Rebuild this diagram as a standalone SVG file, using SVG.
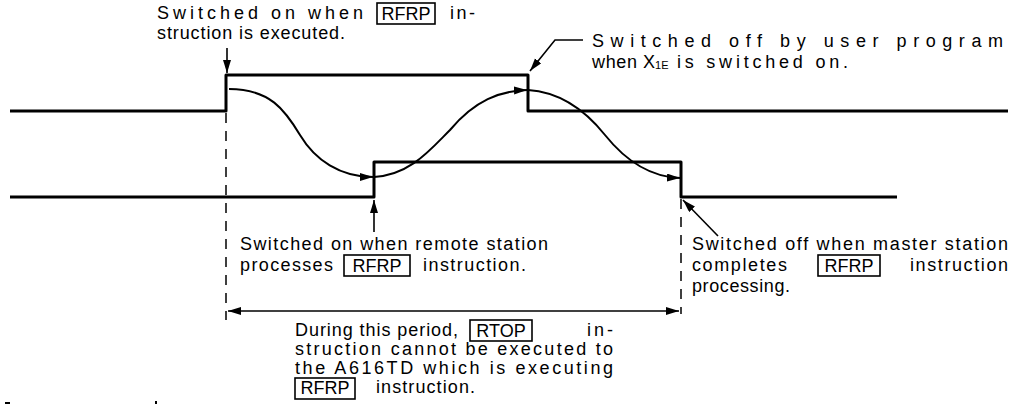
<svg xmlns="http://www.w3.org/2000/svg" width="1023" height="406" viewBox="0 0 1023 406">
<defs>
<marker id="ah" markerUnits="userSpaceOnUse" markerWidth="14" markerHeight="10" refX="13" refY="4" orient="auto-start-reverse">
<path d="M0,0 L13,4 L0,8 z" fill="#000"/>
</marker>
</defs>
<style>
.sig{fill:none;stroke:#000;stroke-width:3;stroke-linejoin:round}
.crv{fill:none;stroke:#000;stroke-width:2}
.ldr{fill:none;stroke:#000;stroke-width:1.6}
.dash{fill:none;stroke:#000;stroke-width:1.5;stroke-dasharray:10 8}
.box{fill:none;stroke:#000;stroke-width:1.6}
text{font-family:"Liberation Sans",Arial,sans-serif;font-size:18px;fill:#000}
.c{text-anchor:middle}
.sub{font-size:11px}
</style>
<rect width="1023" height="406" fill="#fff"/>
<g id="signal-top"><path class="sig" d="M10,111 H226 V75 H528 V111 H1008"/></g>
<g id="signal-bottom"><path class="sig" d="M10,197 H374 V162 H681 V197 H897"/></g>
<g id="connectors">
<path class="dash" d="M226,113 V320"/>
<path class="dash" d="M681,199 V314"/>
<path class="ldr" d="M228,311 H679" marker-start="url(#ah)" marker-end="url(#ah)"/>
<path class="crv" d="M229,89 C270,89 285,110 300,135 C315,160 340,177 373,177" marker-end="url(#ah)"/>
<path class="crv" d="M374,177 C410,175 430,150 450,130 C475,100 500,91 527,90" marker-end="url(#ah)"/>
<path class="crv" d="M528,90 C560,92 585,110 605,135 C625,160 650,177 680,178" marker-end="url(#ah)"/>
<path class="ldr" d="M227,48 V73" marker-end="url(#ah)"/>
<path class="ldr" d="M374,232 V200" marker-end="url(#ah)"/>
<path class="ldr" d="M583,40 H555 L530,71" marker-end="url(#ah)"/>
<path class="ldr" d="M718,236 L683,200" marker-end="url(#ah)"/>
</g>
<g id="label-switch-on">
<text x="157" y="19" textLength="206" lengthAdjust="spacing">Switched on when</text>
<rect class="box" x="377" y="3" width="58" height="21"/>
<text class="c" x="406" y="20">RFRP</text>
<text x="450" y="19" textLength="25" lengthAdjust="spacing">in-</text>
<text x="157" y="39" textLength="188" lengthAdjust="spacing">struction is executed.</text>
</g>
<g id="label-switch-off-user">
<text x="592" y="47" textLength="411" lengthAdjust="spacing">Switched off by user program</text>
<text x="592" y="68" textLength="45" lengthAdjust="spacing">when</text>
<text x="643" y="68">X<tspan class="sub" dy="1">1E</tspan></text>
<text x="677" y="68" textLength="171" lengthAdjust="spacing">is switched on.</text>
</g>
<g id="label-remote-on">
<text x="240" y="250" textLength="308" lengthAdjust="spacing">Switched on when remote station</text>
<text x="240" y="271" textLength="93" lengthAdjust="spacing">processes</text>
<rect class="box" x="344" y="255" width="66" height="21"/>
<text class="c" x="377" y="272">RFRP</text>
<text x="423" y="271" textLength="103" lengthAdjust="spacing">instruction.</text>
</g>
<g id="label-master-off">
<text x="692" y="250" textLength="316" lengthAdjust="spacing">Switched off when master station</text>
<text x="692" y="271" textLength="95" lengthAdjust="spacing">completes</text>
<rect class="box" x="818" y="255" width="62" height="21"/>
<text class="c" x="849" y="272">RFRP</text>
<text x="910" y="271" textLength="98" lengthAdjust="spacing">instruction</text>
<text x="692" y="292" textLength="98" lengthAdjust="spacing">processing.</text>
</g>
<g id="label-period">
<text x="295" y="336" textLength="163" lengthAdjust="spacing">During this period,</text>
<rect class="box" x="470" y="320" width="62" height="21"/>
<text class="c" x="501" y="337">RTOP</text>
<text x="587" y="336" textLength="26" lengthAdjust="spacing">in-</text>
<text x="295" y="355" textLength="318" lengthAdjust="spacing">struction cannot be executed to</text>
<text x="295" y="374" textLength="318" lengthAdjust="spacing">the A616TD which is executing</text>
<rect class="box" x="295" y="378" width="60" height="21"/>
<text class="c" x="325" y="394">RFRP</text>
<text x="376" y="393" textLength="99" lengthAdjust="spacing">instruction.</text>
</g>
<rect x="5" y="402" width="5" height="2" fill="#000"/>
<rect x="155" y="401" width="2" height="3" fill="#000"/>
</svg>
